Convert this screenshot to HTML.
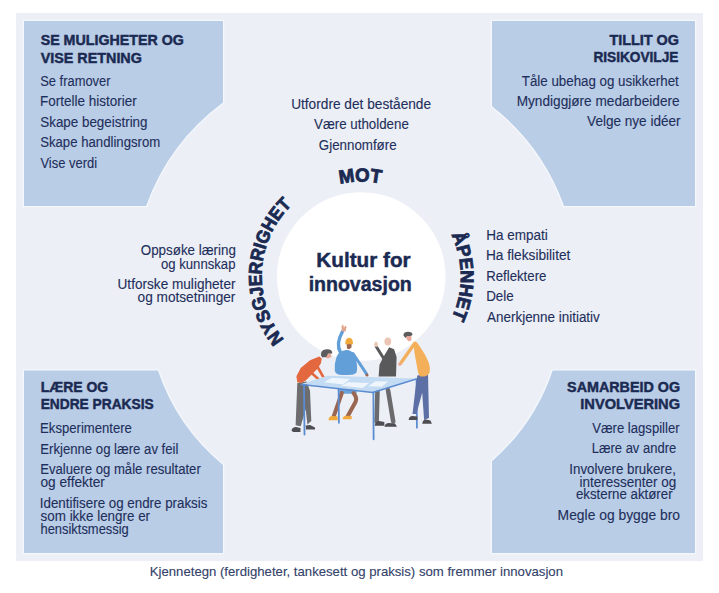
<!DOCTYPE html>
<html><head><meta charset="utf-8">
<style>
html,body{margin:0;padding:0;background:#fff;}
svg{display:block;font-family:"Liberation Sans",sans-serif;}
</style></head><body>
<svg width="719" height="593" viewBox="0 0 719 593">
<defs>
<path id="p_mot" d="M361.20,371.50 A95.00,95.00 0 1 1 361.20,181.50 A95.00,95.00 0 1 1 361.20,371.50"/><path id="p_apen" d="M361.20,376.00 A99.50,99.50 0 1 1 361.20,177.00 A99.50,99.50 0 1 1 361.20,376.00"/><path id="p_nysg" d="M361.20,376.00 A99.50,99.50 0 1 1 361.20,177.00 A99.50,99.50 0 1 1 361.20,376.00"/>
</defs>
<rect x="0" y="0" width="719" height="593" fill="#fff"/>
<rect x="16" y="13" width="687" height="548" fill="#ECF0F6"/>
<g fill="none" stroke="#F4F7FB" stroke-width="2.6"><path d="M24,21 H223 V102.47 A222.06,222.06 0 0 0 146.06,206 H24 Z"/><path d="M492,21 H695 V206 H564.08 A222.06,222.06 0 0 0 492,106.17 Z"/><path d="M24,370.5 H157.94 A208.26,208.26 0 0 0 223,464.90 V553 H24 Z"/><path d="M552.70,370.5 H695 V553 H492 V461.21 A208.26,208.26 0 0 0 552.70,370.5 Z"/></g>
<g fill="#B9CDE6"><path d="M24,21 H223 V102.47 A222.06,222.06 0 0 0 146.06,206 H24 Z"/><path d="M492,21 H695 V206 H564.08 A222.06,222.06 0 0 0 492,106.17 Z"/><path d="M24,370.5 H157.94 A208.26,208.26 0 0 0 223,464.90 V553 H24 Z"/><path d="M552.70,370.5 H695 V553 H492 V461.21 A208.26,208.26 0 0 0 552.70,370.5 Z"/></g>
<circle cx="361.2" cy="276.5" r="84.3" fill="#fff"/>
<g id="illus" stroke-linecap="round" stroke-linejoin="round">
<!-- person 1 -->
<path d="M297.3,383.1 L306.6,381.4 L310,390.7 L311.3,421.1 L307.4,424.5 L305.7,409.3 L300.7,426.2 L295.6,425.3 Z" fill="#6D6D70"/>
<path d="M291.5,430.5 Q292,427 296,427 L300.5,428 L300.5,432 L293,432 Z" fill="#4E4E52"/>
<path d="M305.7,425.5 L310,425 L315,427.5 L315,429.5 L306,429.5 Z" fill="#4E4E52"/>
<path d="M297.3,382.2 L296.4,376.3 L300.7,367.9 L310,360.3 L319.3,356.4 L321.8,358.6 L320.9,363.6 L316.7,369.6 L312.5,373.8 L308.3,378 L305.7,380.5 L301.5,383.1 Z" fill="#E4683F"/>
<path d="M316,364 L323.5,377.5" stroke="#E4683F" stroke-width="2.6" fill="none"/>
<path d="M310.5,372 L321,381.5" stroke="#E4683F" stroke-width="2.6" fill="none"/>
<circle cx="323.8" cy="378.8" r="1.4" fill="#E9A99A"/>
<circle cx="322" cy="382.5" r="1.4" fill="#E9A99A"/>
<path d="M324.5,353 L331,353.5 L331.5,357 L328,358.5 L325,357.5 Z" fill="#E9A99A"/>
<path d="M321,355.5 Q320.5,349.5 326.5,349.3 Q332.5,349 332.3,353.5 L328,353.5 L326.5,356.8 L322.5,357.5 Z" fill="#5C5C5F"/>
<!-- person 2 -->
<path d="M339.2,389 L357,389 L356.5,393.8 L339.5,393.8 Z" fill="#6AA2DA"/>
<path d="M341.8,393 L333.5,417" stroke="#9A6651" stroke-width="4" fill="none"/>
<path d="M353.5,393 Q357.5,398 355.5,402 L347.5,416.5" stroke="#9A6651" stroke-width="4" fill="none"/>
<path d="M328.5,420.2 Q328.5,416.5 332,416 L337.5,416.2 L337.8,420.2 Z" fill="#F2A93B"/>
<path d="M342.7,419.3 Q342.7,416 346,415.7 L351.6,415.9 L351.6,419.3 Z" fill="#F2A93B"/>
<path d="M340.5,352.5 Q335.5,344 342.5,331.5" stroke="#629FD8" stroke-width="3.4" fill="none"/>
<path d="M341.8,331.5 L341.5,326 L343,324.5 L344,327.5 L345.5,325.5 L346.5,327 L345.5,331.5 Z" fill="#E0A58E"/>
<path d="M353,353.5 L366.5,373.8" stroke="#629FD8" stroke-width="3" fill="none"/>
<circle cx="367" cy="375" r="1.6" fill="#9A6651"/>
<path d="M341,351.5 Q345,349.3 349,350.2 Q354,352 356.3,361 Q357.8,368 356.5,372.5 Q354.5,375 348,375 L342,375 Q336,374.8 334.8,371 Q334,364 336.5,357 Q338.3,353 341,351.5 Z" fill="#629FD8"/>
<path d="M346.6,343 L351.6,343 L351.5,347.5 L349,349.3 L347,348.5 Z" fill="#9A6651"/>
<path d="M345.2,344.2 Q345,337.7 349.2,337.7 Q353.2,337.7 353,344.2 Z" fill="#F2A93B"/>
<!-- person 3 -->
<path d="M377.5,390 L376.6,421.5" stroke="#6B6B6E" stroke-width="4.6" fill="none"/>
<path d="M388,390 L393.2,421.5" stroke="#6B6B6E" stroke-width="4.6" fill="none"/>
<path d="M374.7,425.8 Q375,421.5 379,421 L384.4,422 L384.4,425.8 Z" fill="#4E4E52"/>
<path d="M384.4,426.7 Q385,423 389,422.9 L395,423.5 L397,426.7 Z" fill="#4E4E52"/>
<path d="M378.6,376.4 L379.5,364.7 L383.4,357 L389.2,347.3 L394.1,349.2 L396.6,357 L396,376.4 Z" fill="#59595C"/>
<path d="M376.2,346.5 L383.4,358" stroke="#59595C" stroke-width="3" fill="none"/>
<path d="M374,344.5 L375.5,341.5 L377.5,342.5 L378,346.5 L375.5,347 Z" fill="#EBC6B4"/>
<ellipse cx="387.8" cy="341.5" rx="3.4" ry="4" fill="#EBC6B4"/>
<!-- table top -->
<path d="M301.3,384 L327.5,375.8 L416.2,378.6 L372.8,392.1 Z" fill="#C3DBF3"/>
<path d="M323.9,382.2 L332.1,377.7 L350.2,379.1 L342.9,384.5 Z" fill="#EEF5FC"/>
<path d="M341.1,385.8 L348.3,382.2 L369.1,383.1 L362.8,388.1 Z" fill="#EEF5FC"/>
<path d="M368.2,386.3 L375.5,381.3 L388.1,381.6 L381.8,386.7 Z" fill="#EEF5FC"/>
<path d="M301.3,384.5 L372.8,392.5 L416.2,379" stroke="#5B8BD0" stroke-width="1.6" fill="none"/>
<path d="M304,385 L304.5,434.5" stroke="#5B8BD0" stroke-width="1.8" fill="none"/>
<path d="M338.6,389.5 L338.9,422.8" stroke="#5B8BD0" stroke-width="1.8" fill="none"/>
<path d="M373.4,392.5 L373.6,439.3" stroke="#5B8BD0" stroke-width="1.8" fill="none"/>
<path d="M416.6,379.3 L416.9,427.7" stroke="#5B8BD0" stroke-width="1.8" fill="none"/>
<!-- person 4 -->
<path d="M417.3,375.4 L428,373.4 L429,418 L424.1,420 L422.2,392.8 L416.4,414.1 L412.5,414.1 L415.4,389 Z" fill="#5D70A6"/>
<path d="M408.6,420 Q409,416.2 412.5,416.1 L417.3,416.5 L417.3,420 Z" fill="#4E4E52"/>
<path d="M422.2,423.8 Q422.5,419.8 426,419.6 L430.5,420.5 L431.9,423.8 Z" fill="#4E4E52"/>
<path d="M414.6,341.2 Q416.5,341 420.5,347.4 Q425.5,354.5 428.5,362 Q430.5,368 429.6,372 Q429,375.5 424.5,376.4 L420.5,376.4 Q418.2,375.5 417.6,370 L414.6,353.5 Q413,347 414.6,341.2 Z" fill="#F4AF5A"/>
<path d="M414.6,343.5 L400.5,363.5" stroke="#F4AF5A" stroke-width="3.3" fill="none"/>
<circle cx="399.8" cy="364.2" r="1.6" fill="#E9A99A"/>
<path d="M405.7,335 L411.2,335 L411.5,340 L409,341.5 L406.5,339 Z" fill="#E9A99A"/>
<path d="M403.4,335.5 Q403.5,331.8 408,331.8 Q412.5,331.8 412.5,335 L410.5,336 L407,336 L405.5,338 Z" fill="#5C5C5F"/>
</g>

<text font-weight="bold" font-size="19" fill="#1B2A52" stroke="#1B2A52" stroke-width="0.85"><textPath href="#p_mot" startOffset="276.21" textLength="41.50" lengthAdjust="spacingAndGlyphs">MOT</textPath></text><text font-weight="bold" font-size="18.5" fill="#1B2A52" stroke="#1B2A52" stroke-width="0.85"><textPath href="#p_apen" startOffset="424.84" textLength="86.00" lengthAdjust="spacingAndGlyphs">ÅPENHET</textPath></text><text font-weight="bold" font-size="18.5" fill="#1B2A52" stroke="#1B2A52" stroke-width="0.85"><textPath href="#p_nysg" startOffset="87.85" textLength="148.00" lengthAdjust="spacingAndGlyphs">NYSGJERRIGHET</textPath></text>
<text x="40.66" y="44.75" font-weight="bold" font-size="14.2" textLength="143.14" lengthAdjust="spacingAndGlyphs" fill="#1B2A52" stroke="#1B2A52" stroke-width="0.45">SE MULIGHETER OG</text><text x="40.71" y="62.50" font-weight="bold" font-size="14.2" textLength="101.18" lengthAdjust="spacingAndGlyphs" fill="#1B2A52" stroke="#1B2A52" stroke-width="0.45">VISE RETNING</text><text x="40.24" y="85.90" font-weight="normal" font-size="13.8" textLength="70.32" lengthAdjust="spacingAndGlyphs" fill="#1F2F5C" stroke="#1F2F5C" stroke-width="0.12">Se framover</text><text x="40.09" y="106.10" font-weight="normal" font-size="13.8" textLength="96.74" lengthAdjust="spacingAndGlyphs" fill="#1F2F5C" stroke="#1F2F5C" stroke-width="0.12">Fortelle historier</text><text x="40.27" y="126.80" font-weight="normal" font-size="13.8" textLength="107.24" lengthAdjust="spacingAndGlyphs" fill="#1F2F5C" stroke="#1F2F5C" stroke-width="0.12">Skape begeistring</text><text x="40.18" y="147.40" font-weight="normal" font-size="13.8" textLength="120.05" lengthAdjust="spacingAndGlyphs" fill="#1F2F5C" stroke="#1F2F5C" stroke-width="0.12">Skape handlingsrom</text><text x="40.43" y="167.60" font-weight="normal" font-size="13.8" textLength="56.64" lengthAdjust="spacingAndGlyphs" fill="#1F2F5C" stroke="#1F2F5C" stroke-width="0.12">Vise verdi</text><text x="609.42" y="44.80" font-weight="bold" font-size="14.2" textLength="69.63" lengthAdjust="spacingAndGlyphs" fill="#1B2A52" stroke="#1B2A52" stroke-width="0.45">TILLIT OG</text><text x="593.40" y="62.20" font-weight="bold" font-size="14.2" textLength="85.05" lengthAdjust="spacingAndGlyphs" fill="#1B2A52" stroke="#1B2A52" stroke-width="0.45">RISIKOVILJE</text><text x="521.84" y="85.80" font-weight="normal" font-size="13.8" textLength="156.96" lengthAdjust="spacingAndGlyphs" fill="#1F2F5C" stroke="#1F2F5C" stroke-width="0.12">Tåle ubehag og usikkerhet</text><text x="516.70" y="106.40" font-weight="normal" font-size="13.8" textLength="162.92" lengthAdjust="spacingAndGlyphs" fill="#1F2F5C" stroke="#1F2F5C" stroke-width="0.12">Myndiggjøre medarbeidere</text><text x="587.09" y="126.40" font-weight="normal" font-size="13.8" textLength="93.51" lengthAdjust="spacingAndGlyphs" fill="#1F2F5C" stroke="#1F2F5C" stroke-width="0.12">Velge nye idéer</text><text x="291.15" y="109.00" font-weight="normal" font-size="13.8" textLength="139.94" lengthAdjust="spacingAndGlyphs" fill="#1F2F5C" stroke="#1F2F5C" stroke-width="0.12">Utfordre det bestående</text><text x="314.08" y="128.80" font-weight="normal" font-size="13.8" textLength="94.73" lengthAdjust="spacingAndGlyphs" fill="#1F2F5C" stroke="#1F2F5C" stroke-width="0.12">Være utholdene</text><text x="318.84" y="149.50" font-weight="normal" font-size="13.8" textLength="77.79" lengthAdjust="spacingAndGlyphs" fill="#1F2F5C" stroke="#1F2F5C" stroke-width="0.12">Gjennomføre</text><text x="140.78" y="255.40" font-weight="normal" font-size="13.8" textLength="95.13" lengthAdjust="spacingAndGlyphs" fill="#1F2F5C" stroke="#1F2F5C" stroke-width="0.12">Oppsøke læring</text><text x="160.99" y="268.50" font-weight="normal" font-size="13.8" textLength="74.51" lengthAdjust="spacingAndGlyphs" fill="#1F2F5C" stroke="#1F2F5C" stroke-width="0.12">og kunnskap</text><text x="117.55" y="289.10" font-weight="normal" font-size="13.8" textLength="117.94" lengthAdjust="spacingAndGlyphs" fill="#1F2F5C" stroke="#1F2F5C" stroke-width="0.12">Utforske muligheter</text><text x="137.62" y="302.20" font-weight="normal" font-size="13.8" textLength="97.75" lengthAdjust="spacingAndGlyphs" fill="#1F2F5C" stroke="#1F2F5C" stroke-width="0.12">og motsetninger</text><text x="486.16" y="239.90" font-weight="normal" font-size="13.8" textLength="61.58" lengthAdjust="spacingAndGlyphs" fill="#1F2F5C" stroke="#1F2F5C" stroke-width="0.12">Ha empati</text><text x="486.00" y="260.30" font-weight="normal" font-size="13.8" textLength="84.36" lengthAdjust="spacingAndGlyphs" fill="#1F2F5C" stroke="#1F2F5C" stroke-width="0.12">Ha fleksibilitet</text><text x="486.20" y="280.70" font-weight="normal" font-size="13.8" textLength="60.20" lengthAdjust="spacingAndGlyphs" fill="#1F2F5C" stroke="#1F2F5C" stroke-width="0.12">Reflektere</text><text x="486.15" y="301.40" font-weight="normal" font-size="13.8" textLength="27.58" lengthAdjust="spacingAndGlyphs" fill="#1F2F5C" stroke="#1F2F5C" stroke-width="0.12">Dele</text><text x="487.07" y="321.60" font-weight="normal" font-size="13.8" textLength="112.72" lengthAdjust="spacingAndGlyphs" fill="#1F2F5C" stroke="#1F2F5C" stroke-width="0.12">Anerkjenne initiativ</text><text x="316.36" y="266.70" font-weight="bold" font-size="20" textLength="94.23" lengthAdjust="spacingAndGlyphs" fill="#1B2A52" stroke="#1B2A52" stroke-width="0.45">Kultur for</text><text x="308.63" y="291.00" font-weight="bold" font-size="20" textLength="103.17" lengthAdjust="spacingAndGlyphs" fill="#1B2A52" stroke="#1B2A52" stroke-width="0.45">innovasjon</text><text x="40.70" y="392.10" font-weight="bold" font-size="14.2" textLength="67.48" lengthAdjust="spacingAndGlyphs" fill="#1B2A52" stroke="#1B2A52" stroke-width="0.45">LÆRE OG</text><text x="40.67" y="409.10" font-weight="bold" font-size="14.2" textLength="113.05" lengthAdjust="spacingAndGlyphs" fill="#1B2A52" stroke="#1B2A52" stroke-width="0.45">ENDRE PRAKSIS</text><text x="40.08" y="432.70" font-weight="normal" font-size="13.8" textLength="91.81" lengthAdjust="spacingAndGlyphs" fill="#1F2F5C" stroke="#1F2F5C" stroke-width="0.12">Eksperimentere</text><text x="40.25" y="453.50" font-weight="normal" font-size="13.8" textLength="138.20" lengthAdjust="spacingAndGlyphs" fill="#1F2F5C" stroke="#1F2F5C" stroke-width="0.12">Erkjenne og lære av feil</text><text x="40.20" y="473.80" font-weight="normal" font-size="13.8" textLength="160.60" lengthAdjust="spacingAndGlyphs" fill="#1F2F5C" stroke="#1F2F5C" stroke-width="0.12">Evaluere og måle resultater</text><text x="40.49" y="486.50" font-weight="normal" font-size="13.8" textLength="64.36" lengthAdjust="spacingAndGlyphs" fill="#1F2F5C" stroke="#1F2F5C" stroke-width="0.12">og effekter</text><text x="39.78" y="508.00" font-weight="normal" font-size="13.8" textLength="167.67" lengthAdjust="spacingAndGlyphs" fill="#1F2F5C" stroke="#1F2F5C" stroke-width="0.12">Identifisere og endre praksis</text><text x="40.60" y="521.30" font-weight="normal" font-size="13.8" textLength="109.48" lengthAdjust="spacingAndGlyphs" fill="#1F2F5C" stroke="#1F2F5C" stroke-width="0.12">som ikke lengre er</text><text x="40.51" y="533.70" font-weight="normal" font-size="13.8" textLength="88.29" lengthAdjust="spacingAndGlyphs" fill="#1F2F5C" stroke="#1F2F5C" stroke-width="0.12">hensiktsmessig</text><text x="567.11" y="392.40" font-weight="bold" font-size="14.2" textLength="112.94" lengthAdjust="spacingAndGlyphs" fill="#1B2A52" stroke="#1B2A52" stroke-width="0.45">SAMARBEID OG</text><text x="580.30" y="409.10" font-weight="bold" font-size="14.2" textLength="99.73" lengthAdjust="spacingAndGlyphs" fill="#1B2A52" stroke="#1B2A52" stroke-width="0.45">INVOLVERING</text><text x="592.19" y="432.90" font-weight="normal" font-size="13.8" textLength="87.38" lengthAdjust="spacingAndGlyphs" fill="#1F2F5C" stroke="#1F2F5C" stroke-width="0.12">Være lagspiller</text><text x="591.71" y="453.10" font-weight="normal" font-size="13.8" textLength="84.49" lengthAdjust="spacingAndGlyphs" fill="#1F2F5C" stroke="#1F2F5C" stroke-width="0.12">Lære av andre</text><text x="569.32" y="473.90" font-weight="normal" font-size="13.8" textLength="106.56" lengthAdjust="spacingAndGlyphs" fill="#1F2F5C" stroke="#1F2F5C" stroke-width="0.12">Involvere brukere,</text><text x="579.61" y="486.60" font-weight="normal" font-size="13.8" textLength="96.61" lengthAdjust="spacingAndGlyphs" fill="#1F2F5C" stroke="#1F2F5C" stroke-width="0.12">interessenter og</text><text x="575.90" y="499.00" font-weight="normal" font-size="13.8" textLength="96.71" lengthAdjust="spacingAndGlyphs" fill="#1F2F5C" stroke="#1F2F5C" stroke-width="0.12">eksterne aktører</text><text x="557.64" y="520.30" font-weight="normal" font-size="13.8" textLength="122.40" lengthAdjust="spacingAndGlyphs" fill="#1F2F5C" stroke="#1F2F5C" stroke-width="0.12">Megle og bygge bro</text><text x="149.76" y="576.20" font-weight="normal" font-size="13.4" textLength="413.21" lengthAdjust="spacingAndGlyphs" fill="#33426A" stroke="#33426A" stroke-width="0.12">Kjennetegn (ferdigheter, tankesett og praksis) som fremmer innovasjon</text>
</svg>
</body></html>
